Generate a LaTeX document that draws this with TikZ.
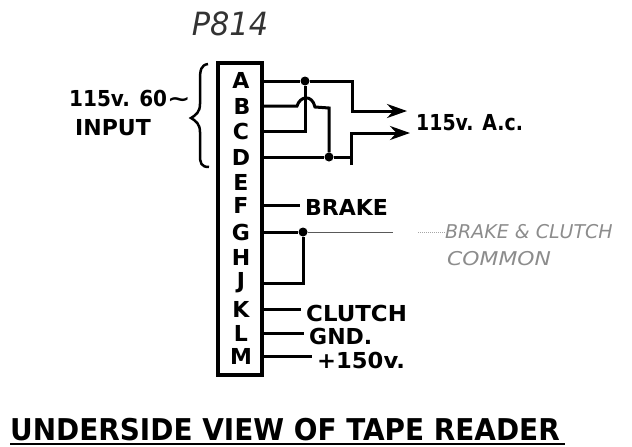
\documentclass[tikz,border=0pt]{standalone}
\usepackage{fontspec}
\setmainfont{DejaVu Sans}
\usetikzlibrary{arrows.meta}
\tikzset{
pinlabel/.style={font=\bfseries\fontsize{22}{22}\selectfont, inner sep=0pt},
wirelabel/.style={font=\bfseries\fontsize{22}{24}\selectfont, inner sep=0pt, anchor=west},
wire/.style={line width=3pt},
tap/.style={wire, shorten >=5pt},
feed/.style={wire, -{Stealth[length=20pt,width=14pt]}},
junction/.style={circle, fill=black, inner sep=0pt, minimum size=9pt},
faded/.style={font=\itshape\fontsize{19}{21}\selectfont, text=black!45, inner sep=0pt, anchor=west}
}
\begin{document}
\begin{tikzpicture}[x=1pt,y=-1pt]
\useasboundingbox (0,0) rectangle (632,447);
\node[draw, line width=3.5pt, minimum width=44pt, minimum height=312pt, inner sep=0pt] (conn) at (240,219) {};
\node[pinlabel] (pinA) at (241,80) {A};
\node[pinlabel] (pinB) at (242,106) {B};
\node[pinlabel] (pinC) at (241,131) {C};
\node[pinlabel] (pinD) at (241,157) {D};
\node[pinlabel] (pinE) at (241,182) {E};
\node[pinlabel] (pinF) at (241,205) {F};
\node[pinlabel] (pinG) at (241,232) {G};
\node[pinlabel] (pinH) at (241,257) {H};
\node[pinlabel] (pinJ) at (241,283) {J};
\node[pinlabel] (pinK) at (241,309) {K};
\node[pinlabel] (pinL) at (241,333) {L};
\node[pinlabel] (pinM) at (241,356) {M};
\node[font=\itshape\fontsize{32}{32}\selectfont, inner sep=0pt, black!80, xscale=.95] (partno) at (230,24) {P814};
\node[wirelabel, xscale=.91] (mains) at (69,98) {115v. 60\scalebox{1.4}[1]{\textasciitilde}};
\node[wirelabel] (input) at (75,128) {INPUT};
\node[wirelabel, xscale=.86] (acout) at (416,123) {115v. A.c.};
\node[wirelabel] (brake) at (305,207) {BRAKE};
\node[faded] (common1) at (445,232) {BRAKE \& CLUTCH};
\node[faded, xscale=1.15] (common2) at (447,259) {COMMON};
\node[wirelabel, xscale=1.04] (clutch) at (306,313) {CLUTCH};
\node[wirelabel] (gnd) at (309,336) {GND.};
\node[wirelabel, xscale=1.03] (plus) at (317,360) {+150v.};
\node[font=\bfseries\fontsize{30}{30}\selectfont, inner sep=0pt, anchor=base west, xscale=.93] (title) at (10,440) {UNDERSIDE VIEW OF TAPE READER};
\node[junction] (jacA) at (305,81) {};
\node[junction] (jacD) at (329,157) {};
\node[junction] (jacG) at (303,232) {};
\coordinate (tipone) at (407,111);
\coordinate (tiptwo) at (410,133);
\coordinate (stub) at (351,165);
\coordinate (fadeend) at (393,232);
\coordinate (fadestart) at (418,232);
\coordinate (ruleleft) at (10,444);
\coordinate (ruleright) at (565,444);
\draw[line width=2.5pt] (208,64) .. controls (201,65) and (200,70) .. (200,80) -- (200,104) .. controls (200,112) and (196,115) .. (191,118) .. controls (196,121) and (200,124) .. (200,132) -- (200,155) .. controls (200,163) and (201,167) .. (209,167);
\draw[feed] (conn.east |- jacA) -- (jacA) -- (352,81) -- (352,111) -- (tipone);
\draw[wire] (conn.east |- pinB) -- (297,106) .. controls (300,96) and (312,94) .. (315,107) -- (329,108) -- (jacD);
\draw[wire] (conn.east |- pinC) -- (305,131) -- (jacA);
\draw[wire] (conn.east |- jacD) -- (jacD) -- (stub |- jacD);
\draw[feed] (stub) -- (351,133) -- (tiptwo);
\draw[tap] (conn.east |- pinF) -- (brake.west |- pinF);
\draw[wire] (conn.east |- jacG) -- (jacG);
\draw[line width=1pt, black!65] (jacG) -- (fadeend);
\draw[line width=1pt, black!35, densely dotted] (fadestart) -- (common1.west);
\draw[wire] (conn.east |- pinJ) -- (jacG |- pinJ) -- (jacG);
\draw[tap] (conn.east |- pinK) -- (clutch.west |- pinK);
\draw[tap] (conn.east |- pinL) -- (gnd.west |- pinL);
\draw[tap] (conn.east |- pinM) -- (plus.west |- pinM);
\draw[line width=2.5pt] (ruleleft) -- (ruleright);
\end{tikzpicture}
\end{document}
